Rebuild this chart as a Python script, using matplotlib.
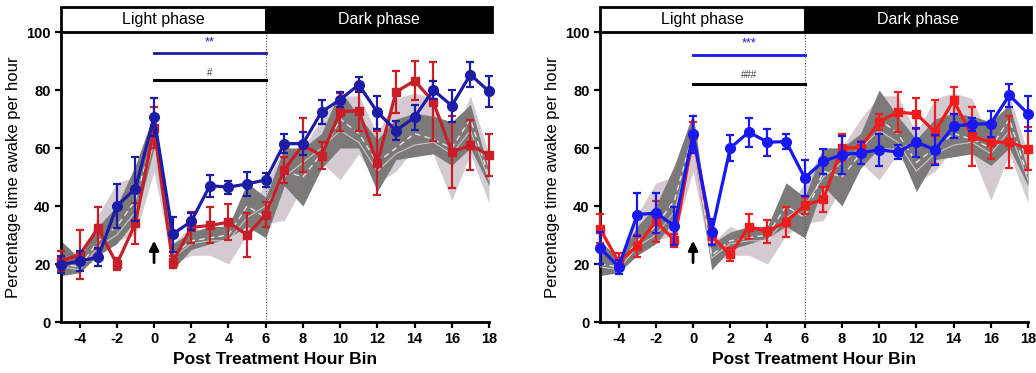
import numpy as np
import matplotlib
matplotlib.use("Agg")
import matplotlib.pyplot as plt
from matplotlib.patches import Rectangle

plt.rcParams['font.family'] = ['Liberation Sans', 'DejaVu Sans']
plt.rcParams['axes.unicode_minus'] = False

hours = list(range(-5, 19))

# historical control bands (same in both panels)
light_lo = [17, 17, 25, 28, 30, 52, 20, 23, 23, 20, 30, 34, 35, 47, 55, 49, 58, 48, 52, 60, 58, 42, 58, 41]
light_hi = [23, 20, 37, 48, 50, 70, 27, 33, 30, 33, 38, 48, 60, 60, 70, 78, 78, 65, 77, 79, 77, 62, 78, 58]
dark_lo = [16, 17, 23, 27, 35, 60, 18, 25, 27, 29, 33, 29, 47, 40, 53, 60, 60, 45, 56, 57, 58, 54, 60, 47]
dark_hi = [28, 22, 33, 40, 54, 72, 27, 31, 33, 33, 48, 43, 60, 60, 65, 80, 71, 63, 70, 72, 71, 69, 75, 52]
ctrl_a = [20, 19, 28, 33, 42, 65, 23, 28, 29, 30, 40, 36, 52, 50, 58, 70, 65, 55, 60, 65, 63, 60, 70, 50]
ctrl_b = [19, 18, 26, 30, 38, 62, 22, 27, 28, 28, 36, 40, 50, 55, 60, 66, 62, 52, 58, 61, 62, 58, 66, 49]

# left panel
left_blue = [19.8, 21, 22.4, 40, 46, 70.7, 30.3, 34.7, 47, 46.5, 47.6, 49, 61.5, 61.5, 72.4, 76.7, 81.8, 72.4, 66, 70.6, 80, 74.6, 85.3, 79.5]
left_blue_err = [3, 3.5, 3, 7.5, 11, 6.5, 6, 3, 3.8, 2.2, 4, 2.3, 3.3, 4, 4, 2.6, 2.6, 5.7, 3.4, 4.4, 3.2, 5.5, 4.4, 5.3]
left_red = [21, 23.2, 32.4, 20, 34, 67, 20.6, 32.6, 33.3, 34.4, 30, 37, 52.5, 61, 57.4, 72.4, 72.9, 54.8, 79.3, 83.2, 76, 58.6, 61, 57.5]
left_red_err = [3.5, 8.5, 7.3, 2, 7, 7, 2, 5.3, 6.2, 6.2, 7.5, 4.3, 4.5, 9.3, 4.5, 6.5, 7, 11, 7.3, 6.7, 13.7, 12.4, 8.6, 7.2]

# right panel
right_blue = [25.6, 19, 37, 37.6, 33.1, 64.7, 31, 60, 65.5, 62, 62.2, 49.7, 55.4, 57.7, 58.3, 59.4, 58.6, 62, 59.4, 67.5, 68.2, 68.4, 78.2, 71.8]
right_blue_err = [5.5, 2.5, 7.5, 7, 6.5, 6.5, 4.5, 4.5, 5, 4.6, 2.6, 6.3, 4.2, 6.6, 3.9, 5.6, 2.5, 5, 5.2, 4.2, 2.3, 4.5, 4, 6]
right_red = [32.2, 20.7, 26.2, 34.7, 28.2, 64.4, 29.5, 23.3, 32.8, 31.3, 34.5, 40.2, 42.3, 60.1, 60.1, 69, 72.4, 71.8, 65.5, 76.4, 64, 62, 62, 59.8]
right_red_err = [4.9, 3, 3.8, 7, 2.3, 4.7, 2.5, 2.3, 4.3, 4, 5.3, 2.9, 4.4, 4.7, 2.3, 2.8, 7, 5.3, 11, 4.6, 10.3, 5.7, 8.9, 7.4]

panels = [
    dict(blue=left_blue, blue_err=left_blue_err, red=left_red, red_err=left_red_err,
         c_blue='#1c1ca6', c_red='#c81e28', stars='**', hashes='#',
         star_y=96.5, blue_line=92.6, hash_y=86.0, black_line=83.3),
    dict(blue=right_blue, blue_err=right_blue_err, red=right_red, red_err=right_red_err,
         c_blue='#1818f0', c_red='#ee1c1c', stars='***', hashes='###',
         star_y=96.0, blue_line=92.0, hash_y=85.2, black_line=82.0),
]

fig = plt.figure(figsize=(10.36, 3.73), dpi=100)
lefts = [61 / 1036, 600 / 1036]


def unclip(container):
    for child in container.get_children():
        child.set_clip_on(False)


for left, p in zip(lefts, panels):
    ax = fig.add_axes([left, 51 / 373, 428 / 1036, 290 / 373])

    ax.fill_between(hours, light_lo, light_hi, color='#d3cad2', lw=0, zorder=1)
    ax.fill_between(hours, dark_lo, dark_hi, color='#7c7979', lw=0, zorder=2)
    ax.plot(hours, ctrl_a, color='white', lw=1.0, ls=(0, (4, 3)), alpha=0.8, zorder=3)
    ax.plot(hours, ctrl_b, color='#e8e8e8', lw=0.8, alpha=0.7, zorder=3)

    eb = ax.errorbar(hours, p['red'], yerr=p['red_err'], color=p['c_red'], marker='s',
                     markersize=6, lw=2.3, elinewidth=1.6, capsize=3, capthick=1.6, zorder=5)
    unclip(eb)
    eb = ax.errorbar(hours, p['blue'], yerr=p['blue_err'], color=p['c_blue'], marker='o',
                     markersize=7, lw=2.3, elinewidth=1.6, capsize=3, capthick=1.6, zorder=6)
    unclip(eb)

    # light / dark transition
    ax.plot([6, 6], [0, 100], color='#555555', lw=0.8, ls=(0, (1, 1.5)), zorder=4)

    # significance bars
    ax.plot([0, 6], [p['blue_line'], p['blue_line']], color=p['c_blue'], lw=2, zorder=4)
    ax.text(3, p['star_y'], p['stars'], color=p['c_blue'], ha='center', va='center', fontsize=9)
    ax.plot([0, 6], [p['black_line'], p['black_line']], color='black', lw=2.2, zorder=4)
    ax.text(3, p['hash_y'], p['hashes'], color='#444444', ha='center', va='center', fontsize=7)

    # treatment arrow
    ax.annotate('', xy=(0, 29), xytext=(0, 19.5),
                arrowprops=dict(arrowstyle='-|>', color='black', lw=2, mutation_scale=14))

    # phase bar
    ax.add_patch(Rectangle((-5, 100), 11, 8.6, facecolor='white', edgecolor='black',
                           lw=2, clip_on=False, zorder=7))
    ax.add_patch(Rectangle((6, 100), 12.15, 8.6, facecolor='black', edgecolor='black',
                           lw=2, clip_on=False, zorder=7))
    ax.text(0.5, 104.3, 'Light phase', ha='center', va='center', fontsize=11.5, zorder=8)
    ax.text(12.1, 104.3, 'Dark phase', ha='center', va='center', fontsize=11.5,
            color='white', zorder=8)

    ax.set_xlim(-5, 18)
    ax.set_ylim(0, 100)
    ax.set_xticks(range(-4, 19, 2))
    ax.set_yticks(range(0, 101, 20))
    for s in ['top', 'right']:
        ax.spines[s].set_visible(False)
    for s in ['left', 'bottom']:
        ax.spines[s].set_linewidth(2)
    ax.tick_params(direction='out', length=4, width=1.6, labelsize=10.5)
    for lab in ax.get_xticklabels() + ax.get_yticklabels():
        lab.set_fontweight('bold')
    ax.set_xlabel('Post Treatment Hour Bin', fontsize=12.5, fontweight='bold', labelpad=4)
    ax.set_ylabel('Percentage time awake per hour', fontsize=12, labelpad=4)

fig.savefig('out.png', dpi=100)
